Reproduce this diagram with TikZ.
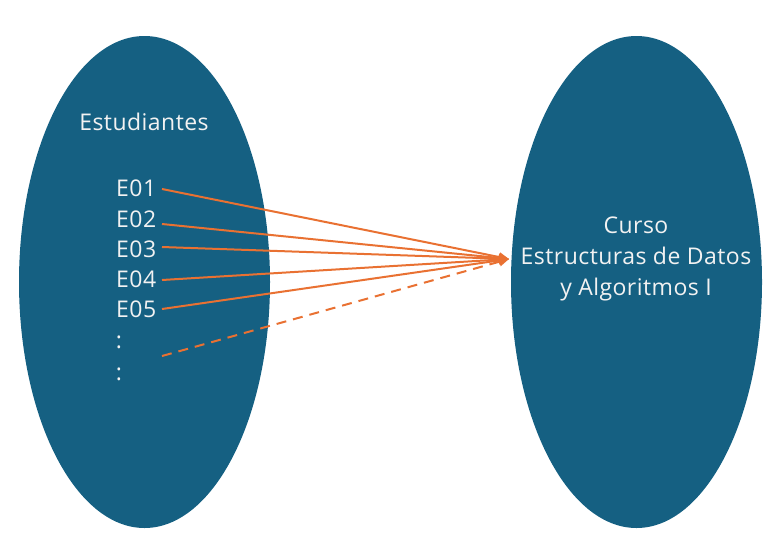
\documentclass[tikz,border=0pt]{standalone}
\usepackage{fontspec}
\setmainfont{Open Sans}[LetterSpace=2]
\usetikzlibrary{arrows.meta,shapes.geometric}
\definecolor{eblue}{HTML}{156082}
\definecolor{eorange}{HTML}{E97132}
\definecolor{etext}{HTML}{F2F2F2}
\tikzset{
  setbox/.style={ellipse,fill=eblue,draw=none,minimum width=251pt,minimum height=492pt,inner sep=0pt},
  lbl/.style={text=etext,font=\fontsize{23}{31}\selectfont,inner sep=0pt,align=center},
  conn/.style={eorange,line width=2pt,-{Triangle[length=10pt,width=9pt]}},
  dconn/.style={conn,dash pattern=on 10pt off 7pt},
}
\begin{document}
\begin{tikzpicture}[x=1pt,y=-1pt]
\useasboundingbox (0,0) rectangle (776,539);
\node[setbox] (L) at (144.5,282) {};
\node[setbox] (R) at (636.5,282) {};
\node[lbl] (est) at (144,122) {Estudiantes};
\node[lbl] (curso) at (636,259) {Curso\\Estructuras de Datos\\y Algoritmos I};
\node[lbl,anchor=west] (e1) at (116,188) {E01};
\node[lbl,anchor=west] (e2) at (116,219) {E02};
\node[lbl,anchor=west] (e3) at (116,249) {E03};
\node[lbl,anchor=west] (e4) at (116,279) {E04};
\node[lbl,anchor=west] (e5) at (116,309) {E05};
\node[lbl] (d1) at (119,342) {:};
\node[lbl] (d2) at (119,374) {:};
\coordinate (t) at (509,259);
\coordinate (s1) at (162,189);
\coordinate (s2) at (162,224);
\coordinate (s3) at (162,247);
\coordinate (s4) at (162,280);
\coordinate (s5) at (162,309);
\coordinate (s6) at (162,356);
\draw[conn] (s1) -- (t);
\draw[conn] (s2) -- (t);
\draw[conn] (s3) -- (t);
\draw[conn] (s4) -- (t);
\draw[conn] (s5) -- (t);
\draw[dconn] (s6) -- (t);
\end{tikzpicture}
\end{document}
